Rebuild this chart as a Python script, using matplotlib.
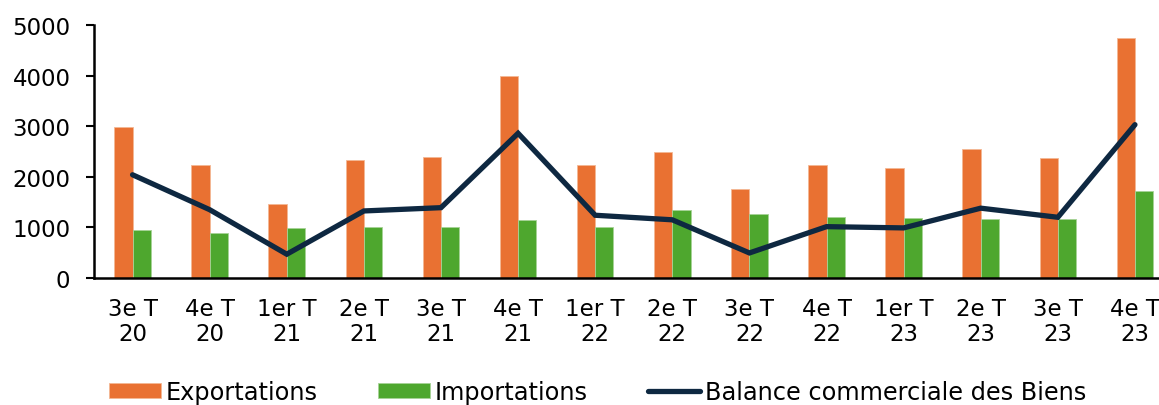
import numpy as np
import matplotlib.pyplot as plt

# quarters (labels on two lines)
quarters = ["3e T\n20", "4e T\n20", "1er T\n21", "2e T\n21", "3e T\n21", "4e T\n21", "1er T\n22",
            "2e T\n22", "3e T\n22", "4e T\n22", "1er T\n23", "2e T\n23", "3e T\n23", "4e T\n23"]
exportations = [2990, 2240, 1470, 2335, 2395, 4000, 2240, 2490, 1765, 2225, 2170, 2540, 2370, 4745]
importations = [950, 895, 995, 1015, 1000, 1140, 1000, 1340, 1265, 1205, 1180, 1160, 1170, 1710]
balance = [2040, 1350, 470, 1325, 1390, 2860, 1240, 1150, 495, 1015, 990, 1380, 1200, 3030]
yticks = [0, 1000, 2000, 3000, 4000, 5000]

c_exp = "#E97132"
c_imp = "#4EA72E"
c_bal = "#0E2841"

plt.rcParams['font.family'] = ['DejaVu Sans']
fs = 16.5

fig = plt.figure(figsize=(11.59, 4.06), dpi=100)
ax = fig.add_axes([94/1159, 127/406, 1065/1159, 253/406])

x = np.arange(len(quarters))
w = 0.237
b1 = ax.bar(x - w/2, exportations, w, color=c_exp, edgecolor="#f4b894", linewidth=0.6, label="Exportations")
b2 = ax.bar(x + w/2, importations, w, color=c_imp, edgecolor="#a6d396", linewidth=0.6, label="Importations")
ln, = ax.plot(x, balance, color=c_bal, linewidth=3.8, solid_capstyle="round",
              solid_joinstyle="miter", label="Balance commerciale des Biens")

ax.set_xlim(-0.5, (1159 - 132) / 77.15)
ax.set_ylim(0, 5000)
ax.set_yticks(yticks)
ax.set_xticks(x)
ax.set_xticklabels(quarters, fontsize=fs, linespacing=1.1)
ax.tick_params(axis="y", labelsize=fs, length=6, width=1.5, pad=11, direction="out")
ax.tick_params(axis="x", length=0, pad=14)
for s in ["top", "right"]:
    ax.spines[s].set_visible(False)
ax.spines["left"].set_linewidth(1.8)
ax.spines["bottom"].set_linewidth(1.8)

fig.legend([b1, b2, ln], ["Exportations", "Importations", "Balance commerciale des Biens"],
           loc="center left", bbox_to_anchor=(109/1159, 1 - 393/406), ncol=3,
           frameon=False, fontsize=17.3, borderpad=0, borderaxespad=0,
           handlelength=2.17, handleheight=0.55, handletextpad=0.2, columnspacing=2.5)

fig.savefig("out.png", dpi=100)
